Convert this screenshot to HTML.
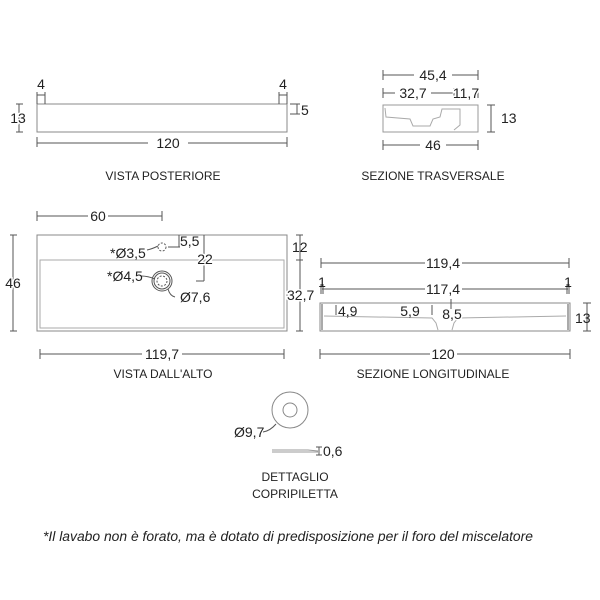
<!DOCTYPE html>
<html><head><meta charset="utf-8"><style>
body{margin:0;background:#fff}
svg{display:block}
text{font-family:"Liberation Sans",sans-serif;fill:#222}
.w{stroke:#fff;stroke-width:3;paint-order:stroke}
</style></head><body>
<svg width="600" height="600" viewBox="0 0 600 600">
<g stroke="#555" stroke-width="1" fill="none">
<rect x="37" y="104" width="250" height="28" stroke="#888"/>
<path d="M37 92V104M45 92V104M279 92V104M287 92V104M37 95H45M279 95H287"/>
<path d="M16 104H23M16 132H23M19 104V132"/>
<path d="M290 104H300M290 114H300M297 104V114"/>
<path d="M37 137V147M287 137V147M37 143H148M188 143H287"/>
<rect x="383" y="105" width="95" height="27" stroke="#999"/>
<path d="M385 108L386 117L410 119L413 126L430 126L433 119L440 117L442 109L460 109L460 125L454 130" stroke="#aaa"/>
<path d="M383 70V80M478 70V80M383 75H414M452 75H478M383 88V98M454 88V98M478 88V98M383 93H395M431 93H454"/>
<path d="M487 105H495M487 132H495M491 105V132"/>
<path d="M383 140V150M478 140V150M383 145H420M446 145H478"/>
<rect x="37" y="235" width="250" height="96" stroke="#888"/>
<rect x="40" y="260" width="244" height="68" stroke="#aaa"/>
<path d="M37 211V221M162 211V221M37 216H88M108 216H162"/>
<path d="M10 235H17M10 331H17M13 235V331"/>
<path d="M296 235H303M296 260H303M296 331H303M300 235V331"/>
<path d="M40 349V359M284 349V359M40 354H142M182 354H284"/>
<path d="M179 235V247M168 247H180M204 235V281M196 281H204"/>
<circle cx="162" cy="247" r="4" stroke-dasharray="2 1.5"/>
<circle cx="162" cy="281" r="10"/><circle cx="162" cy="281" r="8"/>
<circle cx="162" cy="281" r="5" stroke-dasharray="2 1.5"/>
<path d="M147 250Q152 249 158 246M141 276Q148 276 155 279M168 289Q170 296 175 297"/>
<rect x="320" y="303" width="250" height="28" stroke="#888"/>
<path d="M322 304V330M568 304V330" stroke="#aaa" stroke-width="2"/>
<path d="M324 316L432 318L436 323L438 330M452 330L454 323L458 318L566 316" stroke="#aaa"/>
<path d="M321 258V268M569 258V268M321 263H425M462 263H569"/>
<path d="M321 284V294M323 284V294M567 284V294M569 284V294M322 289H425M462 289H568"/>
<path d="M336 305V315M432 305V315M451 299V309"/>
<path d="M583 303H591M583 331H591M587 303V331"/>
<path d="M320 349V359M570 349V359M320 354H430M457 354H570"/>
<circle cx="290" cy="410" r="18" stroke="#888"/><circle cx="290" cy="410" r="7" stroke="#888"/>
<path d="M263 432Q270 431 276 424"/>
<path d="M272 450H308L318 451M272 452H318" stroke="#999"/>
<path d="M316 447H322M316 455H322M319 447V455"/>
</g>
<g font-size="14" text-anchor="middle">
<text x="41" y="89">4</text><text x="283" y="89">4</text>
<text class="w" x="18" y="123">13</text><text x="301" y="115" text-anchor="start">5</text>
<text class="w" x="168" y="148">120</text>
<text class="w" x="433" y="80">45,4</text><text class="w" x="413" y="98">32,7</text><text class="w" x="466" y="98">11,7</text>
<text x="501" y="123" text-anchor="start">13</text><text class="w" x="433" y="150">46</text>
<text class="w" x="98" y="221">60</text>
<text class="w" x="13" y="288">46</text>
<text x="292" y="252" text-anchor="start">12</text><text class="w" x="287" y="300" text-anchor="start">32,7</text>
<text x="180" y="246" text-anchor="start">5,5</text><text class="w" x="205" y="264">22</text>
<text x="110" y="258" text-anchor="start">*Ø3,5</text><text x="107" y="281" text-anchor="start">*Ø4,5</text>
<text x="180" y="302" text-anchor="start">Ø7,6</text>
<text class="w" x="162" y="359">119,7</text>
<text class="w" x="443" y="268">119,4</text><text class="w" x="443" y="294">117,4</text>
<text x="322" y="287">1</text><text x="568" y="287">1</text>
<text x="338" y="316" text-anchor="start">4,9</text><text x="410" y="316">5,9</text><text class="w" x="452" y="319">8,5</text>
<text x="575" y="323" text-anchor="start">13</text>
<text class="w" x="443" y="359">120</text>
<text x="234" y="437" text-anchor="start">Ø9,7</text><text x="323" y="456" text-anchor="start">0,6</text>
</g>
<g font-size="12" text-anchor="middle">
<text x="163" y="180">VISTA POSTERIORE</text>
<text x="433" y="180">SEZIONE TRASVERSALE</text>
<text x="163" y="378">VISTA DALL'ALTO</text>
<text x="433" y="378">SEZIONE LONGITUDINALE</text>
<text x="295" y="481">DETTAGLIO</text>
<text x="295" y="498">COPRIPILETTA</text>
</g>
<text x="43" y="541" font-size="13.5" font-style="italic" textLength="490" lengthAdjust="spacingAndGlyphs">*Il lavabo non è forato, ma è dotato di predisposizione per il foro del miscelatore</text>
</svg>
</body></html>
